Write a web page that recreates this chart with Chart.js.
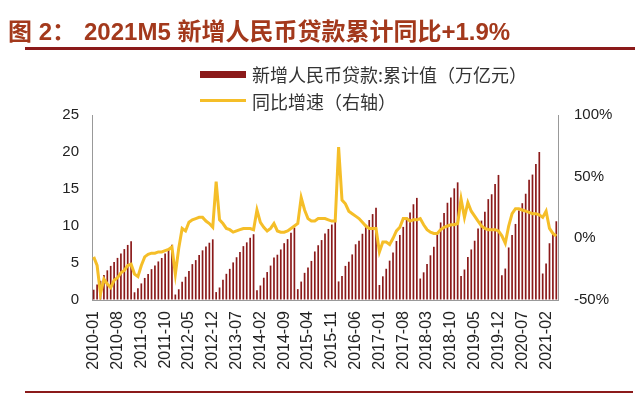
<!DOCTYPE html>
<html>
<head>
<meta charset="utf-8">
<script src="https://cdn.jsdelivr.net/npm/chart.js@4.4.1/dist/chart.umd.min.js"></script>
<style>
  html, body { margin: 0; padding: 0; background: #fff; }
  #wrap { position: relative; width: 640px; height: 396px; overflow: hidden; }
  #c { position: absolute; left: 0; top: 0; }
  .abs { position: absolute; }
  #title { left: 8px; top: 19px; font: bold 24px "Liberation Sans", "Noto Sans CJK SC", sans-serif; color: #a3391c; white-space: nowrap; line-height: 26px; }
  .rule { background: #8b1a1a; left: 25px; width: 610px; }
  .leg { font: 18px "Noto Sans CJK SC", sans-serif; color: #333; white-space: nowrap; line-height: 20px; }
</style>
</head>
<body>
<div id="wrap">
  <canvas id="c" width="640" height="396"></canvas>
  <div id="title" class="abs">图 2：<span style="margin-left:8px">2021M5 新增人民币贷款累计同比+1.9%</span></div>
  <div class="abs rule" style="top:47px;height:3px;"></div>
  <div class="abs" style="left:200px;top:71px;width:46px;height:7px;background:#8b1a1a;"></div>
  <div class="abs leg" style="left:252px;top:64px;">新增人民币贷款:累计值（万亿元）</div>
  <div class="abs" style="left:200px;top:99px;width:46px;height:3px;background:#f5be28;"></div>
  <div class="abs leg" style="left:252px;top:91px;">同比增速（右轴）</div>
  <div class="abs rule" style="top:391px;height:2px;width:608px;"></div>
</div>
<script>
// months 2010-01 .. 2021-05
const months = [];
for (let y = 2010; y <= 2021; y++) {
  for (let m = 1; m <= 12; m++) {
    if (y === 2021 && m > 5) break;
    months.push(y + "-" + String(m).padStart(2, "0"));
  }
}

const tickLabels = ["2010-01", "2010-08", "2011-03", "2011-10", "2012-05", "2012-12", "2013-07",
  "2014-02", "2014-09", "2015-04", "2015-11", "2016-06", "2017-01", "2017-08", "2018-03",
  "2018-10", "2019-05", "2019-12", "2020-07", "2021-02"];

// 新增人民币贷款:累计值（万亿元）
const cumLoans = [
  1.39, 2.09, 2.60, 3.37, 4.01, 4.61, 5.14, 5.69, 6.29, 6.88, 7.44, 7.95,
  1.04, 1.58, 2.24, 2.98, 3.53, 4.17, 4.66, 5.21, 5.68, 6.27, 6.83, 7.47,
  0.74, 1.45, 2.46, 3.14, 3.93, 4.85, 5.39, 6.09, 6.71, 7.22, 7.74, 8.20,
  1.07, 1.69, 2.75, 3.54, 4.21, 5.08, 5.78, 6.49, 7.28, 7.79, 8.41, 8.89,
  1.32, 1.96, 3.01, 3.78, 4.65, 5.74, 6.12, 6.83, 7.68, 8.23, 9.08, 9.78,
  1.47, 2.49, 3.67, 4.38, 5.28, 6.56, 7.40, 8.10, 9.00, 9.60, 10.20, 10.70,
  2.51, 3.24, 4.61, 5.17, 6.16, 7.53, 8.00, 8.95, 10.16, 10.81, 11.61, 12.45,
  2.03, 3.20, 4.22, 5.32, 6.43, 7.97, 8.79, 9.88, 11.16, 11.82, 12.94, 13.80,
  2.90, 3.74, 4.86, 6.04, 7.19, 9.03, 10.48, 11.76, 13.14, 13.84, 15.09, 15.90,
  3.23, 4.12, 5.81, 6.83, 8.01, 9.67, 10.73, 11.94, 13.63, 14.29, 15.68, 16.90,
  3.34, 4.25, 7.10, 8.80, 10.28, 12.09, 13.08, 14.36, 16.26, 16.95, 18.38, 20.00,
  3.58, 4.94, 7.67, 9.14, 10.64
];

// 同比增速（右轴, %）
const yoyGrowth = [
  -15, -22, -45, -33, -37, -40, -34, -32, -28, -26, -22, -21,
  -29, -31, -22, -15, -13, -12, -12, -11, -11, -10, -9, -7,
  -29, -8, 8, 6, 13, 15, 16, 17, 17, 14, 12, 9,
  46, 15, 12, 8, 7, 5, 6, 7, 8, 8, 8, 7,
  23, 13, 9, 6, 8, 12, 6, 5, 5, 6, 8, 10,
  12, 33, 23, 16, 14, 14, 16, 16, 16, 15, 14, 14,
  74, 31, 28, 22, 20, 18, 16, 13, 10, 8, 8, 8,
  -11, -3, -3, -5, 0, 6, 9, 16, 16, 14, 15, 15,
  16, 11, 7, 5, 4, 4, 7, 9, 10, 11, 11, 12,
  32, 17, 29, 22, 18, 14, 10, 8, 7, 7, 7, 6,
  2, -4, 10, 20, 24, 24, 23, 22, 21, 20, 20, 19,
  17, 22, 8, 4, 1.9
];

const tickFont = { family: "'Liberation Sans', Arial, sans-serif", size: 15 };

new Chart(document.getElementById("c"), {
  data: {
    labels: months,
    datasets: [
      {
        type: "line",
        label: "同比增速（右轴）",
        data: yoyGrowth,
        yAxisID: "y1",
        borderColor: "#f5be28",
        borderWidth: 3,
        pointRadius: 0,
        tension: 0,
        order: 0
      },
      {
        type: "bar",
        label: "新增人民币贷款:累计值（万亿元）",
        data: cumLoans,
        yAxisID: "y",
        backgroundColor: "#8b1a1a",
        barPercentage: 0.5,
        categoryPercentage: 1,
        order: 1
      }
    ]
  },
  options: {
    responsive: false,
    animation: false,
    layout: { padding: { top: 115, left: 0, right: 0, bottom: 0 } },
    plugins: { legend: { display: false }, tooltip: { enabled: false } },
    scales: {
      x: {
        offset: true,
        grid: { drawOnChartArea: false, drawTicks: false },
        border: { color: "#999" },
        ticks: {
          autoSkip: false,
          minRotation: 90,
          maxRotation: 90,
          padding: 11,
          color: "#222",
          font: { family: tickFont.family, size: 16 },
          callback: (v, i) => (tickLabels.includes(months[i]) ? months[i] : "")
        },
        afterFit: s => { s.height = 96; }
      },
      y: {
        position: "left",
        min: 0,
        max: 25,
        grid: { drawOnChartArea: false, drawTicks: false },
        border: { color: "#999" },
        ticks: { stepSize: 5, padding: 13, color: "#222", font: tickFont },
        afterFit: s => { s.width = 92; }
      },
      y1: {
        position: "right",
        min: -50,
        max: 100,
        grid: { drawOnChartArea: false, drawTicks: false },
        border: { color: "#999" },
        ticks: { stepSize: 50, padding: 16, color: "#222", font: tickFont, callback: v => v + "%" },
        afterFit: s => { s.width = 82; }
      }
    }
  }
});
</script>
</body>
</html>
